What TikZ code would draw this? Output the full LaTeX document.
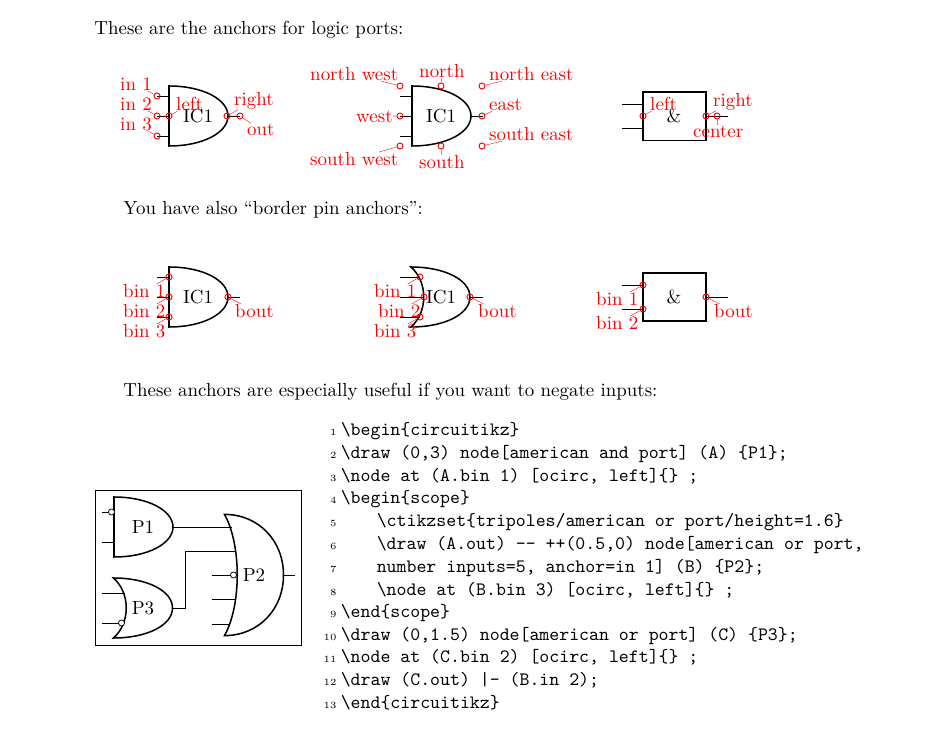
\documentclass[tikz,border=0pt]{standalone}
\usetikzlibrary{positioning}

\tikzset{
    wire/.style={line width=0.5pt},
    gateline/.style={line width=0.8pt},
    boxline/.style={line width=1pt},
    leader/.style={red,line width=0.2pt},
    pin/.style={circle,draw=red,inner sep=0pt,minimum size=3.2pt,line width=0.5pt},
    pinlabel/.style={red,inner sep=0pt,anchor=base west,xshift=-0.6pt,yshift=-0.8pt},
    bubble/.style={circle,draw,fill=white,inner sep=0pt,minimum size=3.2pt,line width=0.4pt},
    para/.style={inner sep=0pt,anchor=base west,xshift=-0.5pt,yshift=-0.5pt},
    lineno/.style={font=\tiny,inner sep=0pt,anchor=base east,yshift=-0.5pt},
    codeline/.style={font=\ttfamily,inner sep=0pt,anchor=base west,xshift=-0.3pt,yshift=-0.5pt},
    andgate/.pic={
        \draw[gateline] (0,-30) -- (0,30)
            .. controls (35,30) and (59,16) .. (59,0)
            .. controls (59,-16) and (35,-30) .. (0,-30) -- cycle;
    },
    orgate/.pic={
        \draw[gateline] (0,-30)
            .. controls (34,-30) and (59,-17) .. (59,0)
            .. controls (59,17) and (34,30) .. (0,30)
            .. controls (17,15) and (17,-15) .. (0,-30) -- cycle;
    },
}
\newcommand{\listline}[4]{
    \node[lineno] (num#1) at (337,#2) {#1};
    \node[codeline] (code#1) at (#3,#2) {#4};
}

\begin{document}
\begin{tikzpicture}[x=0.5285pt,y=-0.5285pt]
\useasboundingbox (0,0) rectangle (937,731);

% running text
\node[para] (t1) at (95,34) {These are the anchors for logic ports:};
\node[para] (t2) at (124,214) {You have also ``border pin anchors'':};
\node[para] (t3) at (124,396) {These anchors are especially useful if you want to negate inputs:};

% gate bodies
\pic at (169,116) {andgate};
\pic at (412,116) {andgate};
\pic at (169,297) {andgate};
\pic at (411,297) {orgate};
\draw[boxline] (643,92) rectangle (706,140.5);
\draw[boxline] (643,273) rectangle (706,321);
\node (ic1) at (198,116) {IC1};
\node (ic2) at (441,116) {IC1};
\node (ic3) at (198,297) {IC1};
\node (ic4) at (441,297) {IC1};
\node (amp1) at (674,116) {\&};
\node (amp2) at (674,297) {\&};

% stubs
\foreach \xa/\ya/\xb [count=\i] in {157/96/169, 157/116/169, 157/136/169, 228/116/240,
    400/96/412, 400/116/412, 400/136/412, 471/116/483,
    622/104/643, 622/128/643, 706/116/728,
    157/277/169, 157/297/169, 157/317/169, 228/297/240,
    400/277/420, 400/297/424, 400/317/420, 470/297/483,
    622/285/643, 622/309/643, 706/297/728,
    102/512/109, 102/542/114, 102/593/125, 102/623/119,
    212/575/231, 212/599/236, 212/624/230, 283/575/295} {
    \coordinate (sa\i) at (\xa,\ya);
    \coordinate (sb\i) at (\xb,\ya);
    \draw[wire] (sa\i) -- (sb\i);
}

% anchors and their labels
\foreach \px/\py/\lx/\ly/\txt [count=\i] in {
    157/96/121/89/in 1, 157/116/121/109/in 2, 157/136/121/129/in 3,
    169/116/177/109/left, 227/116/235/104/right, 240/116/248/134/out,
    400/86/311/79/north west, 441/86/420/76/north, 482/86/490/79/north east,
    400/116/357/121/west, 482/116/490/109/east,
    400/146/311/164/south west, 441/146/420/167/south, 482/146/490/139/south east,
    643/116/651/109/left, 706/116/714/105/right, 717/116/694/136/center,
    169/277/124/296/bin 1, 169/297/124/316/bin 2, 169/317/124/336/bin 3, 228/297/236/316/bout,
    420/277/375/296/bin 1, 424/297/379/316/bin 2, 420/317/375/336/bin 3, 470/297/479/316/bout,
    643/285/597/304/bin 1, 643/309/597/328/bin 2, 706/297/715/316/bout} {
    \node[pin] (pin\i) at (\px,\py) {};
    \node[pinlabel] (lab\i) at (\lx,\ly) {\txt};
    \draw[leader] (pin\i) -- (lab\i);
}

% framed example
\draw[line width=0.4pt] (95.5,490) rectangle (301.5,645);
\pic at (114,527) {andgate};
\pic at (113.5,608) {orgate};
\pic[yscale=2.02] at (224.5,575) {orgate};
\node (p1) at (143,527) {P1};
\node (p2) at (254,575) {P2};
\node (p3) at (143,608) {P3};
\node[bubble] (neg1) at (111.5,512) {};
\node[bubble] (neg2) at (121.5,623) {};
\node[bubble] (neg3) at (233.5,575) {};
\coordinate (p1out) at (173,527);
\coordinate (p2in1) at (232,527);
\coordinate (p3out) at (173,608);
\coordinate (bend1) at (185.5,608);
\coordinate (bend2) at (185.5,551);
\coordinate (p2in2) at (236,551);
\draw[wire] (p1out) -- (p2in1);
\draw[wire] (p3out) -- (bend1) -- (bend2) -- (p2in2);

% listing
\listline{1}{435}{341}{\textbackslash begin\{circuitikz\}}
\listline{2}{458}{341}{\textbackslash draw (0,3) node[american and port] (A) \{P1\};}
\listline{3}{481}{341}{\textbackslash node at (A.bin 1) [ocirc, left]\{\} ;}
\listline{4}{503}{341}{\textbackslash begin\{scope\}}
\listline{5}{526}{377}{\textbackslash ctikzset\{tripoles/american or port/height=1.6\}}
\listline{6}{549}{377}{\textbackslash draw (A.out) -- ++(0.5,0) node[american or port,}
\listline{7}{572}{377}{number inputs=5, anchor=in 1] (B) \{P2\};}
\listline{8}{595}{377}{\textbackslash node at (B.bin 3) [ocirc, left]\{\} ;}
\listline{9}{617}{341}{\textbackslash end\{scope\}}
\listline{10}{640}{341}{\textbackslash draw (0,1.5) node[american or port] (C) \{P3\};}
\listline{11}{662}{341}{\textbackslash node at (C.bin 2) [ocirc, left]\{\} ;}
\listline{12}{685}{341}{\textbackslash draw (C.out) |- (B.in 2);}
\listline{13}{708}{341}{\textbackslash end\{circuitikz\}}
\end{tikzpicture}
\end{document}
